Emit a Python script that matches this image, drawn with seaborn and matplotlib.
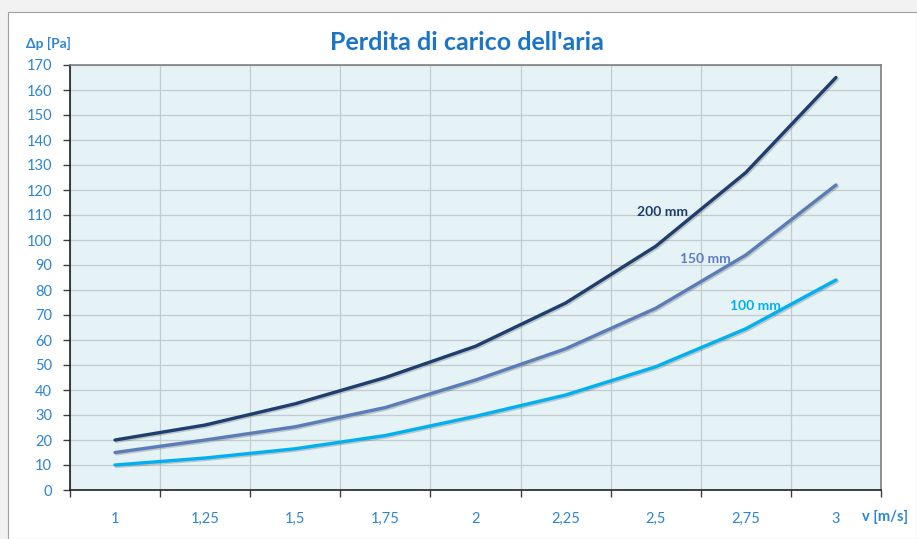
import numpy as np
import pandas as pd
import matplotlib
matplotlib.use('Agg')
import matplotlib.pyplot as plt
import matplotlib.patheffects as pe
import seaborn as sns

# values
velocity = [1, 1.25, 1.5, 1.75, 2, 2.25, 2.5, 2.75, 3]
tick_labels = ['1', '1,25', '1,5', '1,75', '2', '2,25', '2,5', '2,75', '3']
dp_200 = [20, 26, 34.5, 45, 57.5, 74.8, 97.5, 127, 165]
dp_150 = [15, 20, 25.3, 33, 44, 56.5, 72.7, 94, 122]
dp_100 = [10, 12.8, 16.5, 21.8, 29.5, 38, 49.3, 64.5, 84]
series_names = ['200 mm', '150 mm', '100 mm']

colors = {'200 mm': '#1F3D6E', '150 mm': '#5A7DBA', '100 mm': '#00B0F0'}
label_colors = {'200 mm': '#1F3D6E', '150 mm': '#5B7FC2', '100 mm': '#00B0F0'}
blue = '#2B86CF'

df = pd.DataFrame({
    'v': velocity * 3,
    'dp': dp_200 + dp_150 + dp_100,
    'diam': [series_names[0]] * 9 + [series_names[1]] * 9 + [series_names[2]] * 9,
})

sns.set_style('white')
plt.rcParams['font.family'] = ['Lato', 'DejaVu Sans']

fig = plt.figure(figsize=(9.17, 5.39), dpi=100)
fig.patch.set_facecolor('#F2F2F2')
# white chart area
fig.add_artist(plt.Rectangle((8 / 917, 0), 1 - 8 / 917, 1 - 12 / 539, transform=fig.transFigure,
                             facecolor='white', edgecolor='#A0A0A0', lw=0.8, zorder=0))

ax = fig.add_axes([70 / 917, 1 - 490 / 539, 811 / 917, 425 / 539])
ax.set_facecolor('#E5F2F6')

sns.lineplot(data=df, x='v', y='dp', hue='diam', palette=colors, ax=ax, lw=2.4,
             legend=False, sort=False, zorder=3)
for line in ax.lines:
    line.set_solid_capstyle('round')
    line.set_solid_joinstyle('round')
    line.set_path_effects([pe.SimpleLineShadow(offset=(1, -1), alpha=0.18), pe.Normal()])

ax.set_xlim(0.875, 3.125)
ax.set_ylim(0, 170)
ax.set_yticks(range(0, 171, 10))
ax.set_xticks(velocity)
ax.set_xticklabels(tick_labels)
bounds = [0.875 + 0.25 * i for i in range(10)]
ax.set_xticks(bounds, minor=True)
ax.tick_params(axis='x', which='major', length=0, pad=16, labelsize=10.5, labelcolor=blue)
ax.tick_params(axis='x', which='minor', length=5, width=1, color='#404040', direction='out', bottom=True)
ax.tick_params(axis='y', length=5, width=1, color='#404040', direction='out', left=True,
               labelsize=10.5, labelcolor=blue, pad=8)

ax.grid(True, which='minor', axis='x', color='#C5CCCE', lw=0.9)
ax.grid(True, which='major', axis='y', color='#C5CCCE', lw=0.9)
ax.grid(False, which='major', axis='x')
ax.set_axisbelow(True)

for side in ['top', 'right']:
    ax.spines[side].set_color('#7F7F7F')
    ax.spines[side].set_linewidth(1.2)
for side in ['left', 'bottom']:
    ax.spines[side].set_color('#202020')
    ax.spines[side].set_linewidth(1.2)

ax.set_xlabel('')
ax.set_ylabel('')

# curve labels
ax.text(2.519, 111.2, '200 mm', color=label_colors['200 mm'], fontsize=10, fontweight='bold',
        ha='center', va='center', zorder=4)
ax.text(2.639, 92.4, '150 mm', color=label_colors['150 mm'], fontsize=10, fontweight='bold',
        ha='center', va='center', zorder=4)
ax.text(2.778, 73.6, '100 mm', color=label_colors['100 mm'], fontsize=10, fontweight='bold',
        ha='center', va='center', zorder=4)

fig.text(467 / 917, 1 - 43 / 539, "Perdita di carico dell'aria", color='#1C74C6', fontsize=18,
         fontweight='bold', ha='center', va='center')
fig.text(48 / 917, 1 - 43 / 539, 'Δp [Pa]', color=blue, fontsize=10, fontweight='bold',
         ha='center', va='center')
fig.text(885 / 917, 1 - 517 / 539, 'v [m/s]', color=blue, fontsize=10.5, fontweight='bold',
         ha='center', va='center')

fig.savefig('out.png', dpi=100, facecolor=fig.get_facecolor())
